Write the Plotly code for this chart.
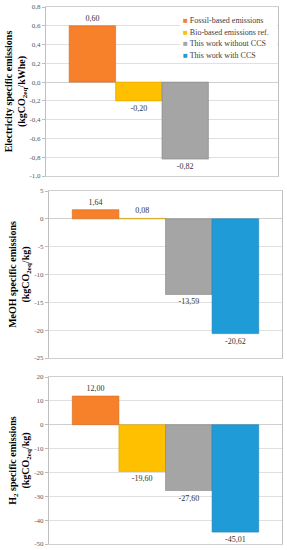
import plotly.graph_objects as go

series = ["Fossil-based emissions", "Bio-based emissions ref.", "This work without CCS", "This work with CCS"]
colors = ["#F7802A", "#FFC000", "#A5A5A5", "#1F9BD8"]
lines = ["#D0661C", "#D9A300", "#858585", "#1A80B3"]

elec = [0.60, -0.20, -0.82, None]
meoh = [1.64, 0.08, -13.59, -20.62]
h2 = [12.00, -19.60, -27.60, -45.01]

elec_ticks = [-1.0, -0.8, -0.6, -0.4, -0.2, 0.0, 0.2, 0.4, 0.6, 0.8]
meoh_ticks = [-25, -20, -15, -10, -5, 0, 5]
h2_ticks = [-50, -40, -30, -20, -10, 0, 10, 20]

titles = [
    "<b>Electricity specific emissions<br>(kgCO<sub>2eq</sub>/kWhe)</b>",
    "<b>MeOH specific emissions<br>(kgCO<sub>2eq</sub>/kg)</b>",
    "<b>H<sub>2</sub> specific emissions<br>(kgCO<sub>2eq</sub>/kg)</b>",
]

def fmt(v, d):
    if v is None:
        return ""
    return f"{v:.{d}f}".replace(".", ",")

W, H = 287, 550
ML, MR, MT, MB = 46, 5, 7, 6
PW, PH = W - ML - MR, H - MT - MB

def px_x(x):
    return (x - ML) / PW

def px_y(y):
    return (H - MB - y) / PH

font_fam = "Liberation Serif, Times New Roman, serif"

fig = go.Figure()
datasets = [elec, meoh, h2]
tickdec = [1, 0, 0]
ticksets = [elec_ticks, meoh_ticks, h2_ticks]
ydomains = [[px_y(176), px_y(7)], [px_y(358), px_y(191)], [px_y(544), px_y(377)]]
xdomains = [[px_x(46), px_x(278)], [px_x(49), px_x(282)], [px_x(49), px_x(282)]]

for p, data in enumerate(datasets):
    ax = "" if p == 0 else str(p + 1)
    for i, name in enumerate(series):
        v = data[i]
        fig.add_trace(go.Bar(
            x=["c"], y=[v], name=name,
            marker=dict(color=colors[i], line=dict(color=lines[i], width=0.6)),
            text=[fmt(v, 2)], textposition="outside", cliponaxis=False,
            textfont=dict(size=8, color="#333333", family=font_fam),
            outsidetextfont=dict(size=8, color="#333333", family=font_fam),
            showlegend=False,
            xaxis="x" + ax, yaxis="y" + ax,
        ))
    lo, hi = ticksets[p][0], ticksets[p][-1]
    fig.layout["xaxis" + ax] = dict(
        domain=xdomains[p], anchor="y" + ax, showticklabels=False,
        showline=True, linecolor="#CFCFCF", linewidth=1, mirror=True,
        showgrid=False, zeroline=False, automargin=False, ticks="",
    )
    fig.layout["yaxis" + ax] = dict(
        domain=ydomains[p], anchor="x" + ax, range=[lo, hi],
        tickvals=ticksets[p],
        ticktext=[fmt(t, tickdec[p]) for t in ticksets[p]],
        tickfont=dict(size=7, color="#595959", family=font_fam),
        ticks="outside", ticklen=3, tickcolor="#BFBFBF",
        showline=True, linecolor="#BFBFBF", linewidth=1, mirror=True,
        showgrid=True, gridcolor="#E0E0E0", gridwidth=1,
        zeroline=True, zerolinecolor="#CFCFCF", zerolinewidth=1,
        automargin=False,
        title=dict(text=titles[p], font=dict(size=10, color="black", family=font_fam),
                   standoff=2),
    )

# legend drawn inside the first panel
fig.add_shape(type="rect", xref="paper", yref="paper",
              x0=px_x(180), x1=px_x(277), y0=px_y(62), y1=px_y(12),
              fillcolor="white", line=dict(width=0), layer="above")
legend_rows = [20, 32, 43.5, 55]
for i, name in enumerate(series):
    fig.add_annotation(
        xref="paper", yref="paper", x=px_x(181), y=px_y(legend_rows[i]),
        xanchor="left", yanchor="middle", showarrow=False, align="left",
        text=f"<span style='color:{colors[i]}'>■</span> {name}",
        font=dict(size=8, color="#404040", family=font_fam),
    )

fig.update_layout(
    template="none",
    width=W, height=H,
    margin=dict(l=ML, r=MR, t=MT, b=MB),
    barmode="group", bargap=0.2, bargroupgap=0,
    plot_bgcolor="white", paper_bgcolor="white",
    font=dict(family=font_fam),
    showlegend=False,
)

fig.write_html("out.html", config={"displayModeBar": False},
               post_script="document.body.style.margin='0';")
